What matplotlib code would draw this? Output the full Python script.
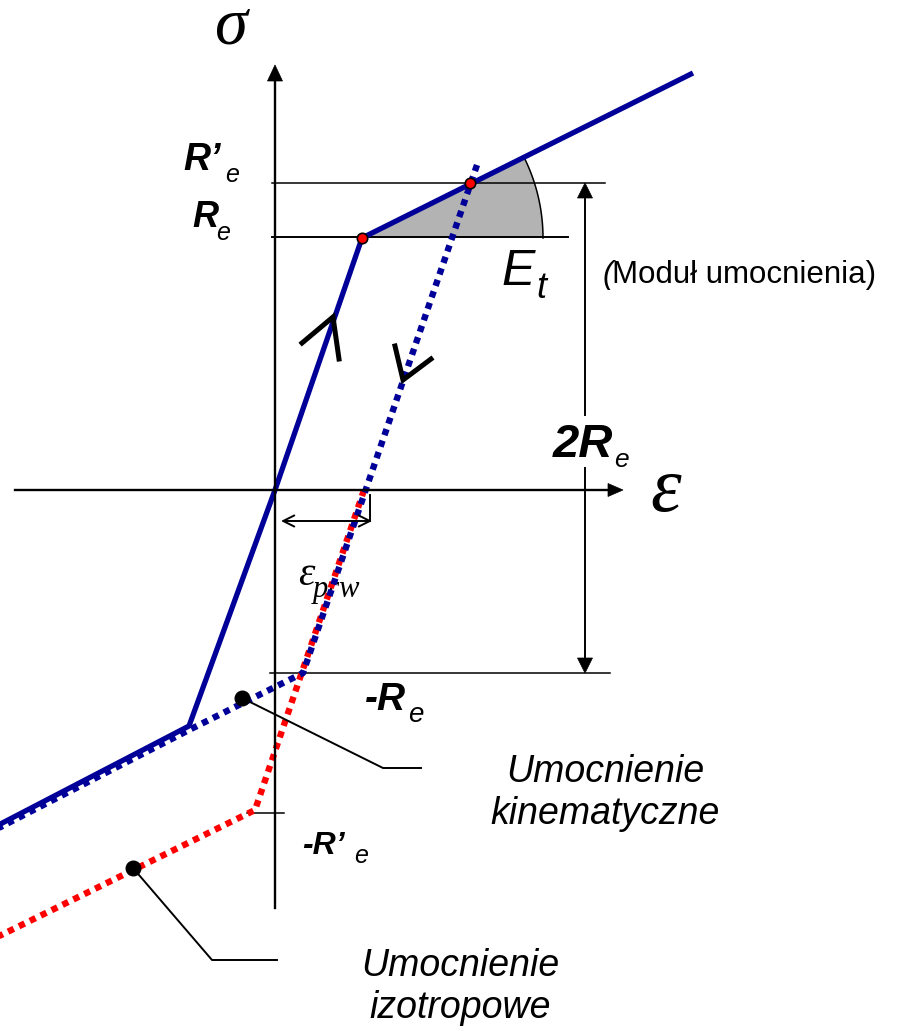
import numpy as np
import matplotlib
matplotlib.use("Agg")
import matplotlib.pyplot as plt
from matplotlib.patches import Wedge, Polygon

# --- diagram geometry (strain eps to the right, stress sig upwards) ---
# monotonic loading curve: compression hardening, elastic line, tension hardening
load_eps = [-290, -86, 0, 87, 418]
load_sig = [-342, -236, 0, 252, 417]

# reverse loading with kinematic hardening (unloading from R'e)
kin_eps = [202, 28, -86, -290]
kin_sig = [325, -183, -240, -345]

# reverse loading with isotropic hardening
iso_eps = [89, -20, -290]
iso_sig = [0, -320, -453]

# yield points marked on the curve
yield_eps = [87, 195]
yield_sig = [252, 307]

# characteristic stress levels
Re = 253
Re_prime = 307
neg_Re = -183
neg_Re_prime = -323

# leader lines for the two annotations
kin_leader_eps = [-33, 108, 146]
kin_leader_sig = [-208, -278, -278]
iso_leader_eps = [-142, -63, 2]
iso_leader_sig = [-378, -470, -470]

BLUE = "#000099"
RED = "#ff0000"
SANS = "Liberation Sans"
SERIF = "Liberation Serif"

fig = plt.figure(figsize=(8.97, 10.31), dpi=100)
ax = fig.add_axes([0, 0, 1, 1])
ax.set_xlim(-275, 622)
ax.set_ylim(-541, 490)
ax.axis("off")


def head(tip, direction, length=15, width=15, **kw):
    """Filled triangular arrow head with its tip at `tip`."""
    d = np.asarray(direction, float)
    d /= np.hypot(*d)
    n = np.array([-d[1], d[0]])
    t = np.asarray(tip, float)
    base = t - d * length
    pts = [t, base + n * width / 2, base - n * width / 2]
    ax.add_patch(Polygon(pts, closed=True, facecolor="black", edgecolor="black",
                         lw=0.5, zorder=6))


# coordinate axes
ax.plot([0, 0], [-418, 411], color="black", lw=1.7, zorder=5)
head((0, 425), (0, 1), 16, 15)
ax.plot([-260, 334], [0, 0], color="black", lw=1.7, zorder=5)
head((348, 0), (1, 0), 15, 13)

# stress-level reference lines
ax.plot([-3, 330], [Re_prime, Re_prime], color="black", lw=1.1, zorder=2)
ax.plot([-3, 293], [Re, Re], color="black", lw=1.4, zorder=2)
ax.plot([-5, 335], [neg_Re, neg_Re], color="black", lw=1.1, zorder=2)
ax.plot([-28, 9], [neg_Re_prime, neg_Re_prime], color="black", lw=1.1, zorder=2)

# 2Re dimension arrow
ax.plot([310, 310], [Re_prime - 14, 75], color="black", lw=1.4, zorder=5)
ax.plot([310, 310], [22, neg_Re + 14], color="black", lw=1.4, zorder=5)
head((310, Re_prime), (0, 1), 15, 15)
head((310, neg_Re), (0, -1), 15, 15)

# tangent modulus wedge
slope_deg = np.degrees(np.arctan2(load_sig[4] - load_sig[3], load_eps[4] - load_eps[3]))
ax.add_patch(Wedge((yield_eps[0], yield_sig[0]), 181, 0, slope_deg,
                   facecolor="#b3b3b3", edgecolor="none", zorder=1))
ang = np.radians(np.linspace(0, slope_deg, 60))
ax.plot(yield_eps[0] + 181 * np.cos(ang), yield_sig[0] + 181 * np.sin(ang),
        color="black", lw=1.1, zorder=2)

# residual strain arrow
ax.annotate("", xy=(6, -31), xytext=(97, -31),
            arrowprops=dict(arrowstyle="<->,head_length=0.8,head_width=0.4",
                            color="black", lw=1.4, shrinkA=0, shrinkB=0), zorder=5)
ax.plot([95, 95], [-5, -31], color="black", lw=1.4, zorder=5)

# eps_prw label (partly hidden behind the dotted paths)
ax.text(23, -95, "ε", family=SERIF, style="italic", fontsize=30,
        ha="left", va="baseline", zorder=2)
ax.text(38, -107, "prw", family=SERIF, style="italic", fontsize=22,
        ha="left", va="baseline", zorder=2)

# loading curve
ax.plot(load_eps, load_sig, color=BLUE, lw=3.8, solid_capstyle="butt",
        solid_joinstyle="miter", zorder=4)

# isotropic and kinematic reverse paths
ax.plot(iso_eps, iso_sig, color=RED, lw=4.6, linestyle=(0, (1, 0.9)), zorder=3)
ax.plot(kin_eps, kin_sig, color=BLUE, lw=4.6, linestyle=(0, (1, 0.9)), zorder=3)

# direction chevrons
ax.plot([27, 58, 64], [147, 173, 131], color="black", lw=3.6,
        solid_joinstyle="miter", zorder=6)
ax.plot([120, 128, 156], [144, 110, 131], color="black", lw=3.6,
        solid_joinstyle="miter", zorder=6)

# yield points
ax.plot(yield_eps, yield_sig, "o", ms=7.5, mfc=RED, mec="black", mew=1.2, zorder=7)

# leaders
ax.plot(kin_leader_eps, kin_leader_sig, color="black", lw=1.4, zorder=5)
ax.plot(kin_leader_eps[0], kin_leader_sig[0], "o", ms=10.5, color="black", zorder=7)
ax.plot(iso_leader_eps, iso_leader_sig, color="black", lw=1.4, zorder=5)
ax.plot(iso_leader_eps[0], iso_leader_sig[0], "o", ms=10.5, color="black", zorder=7)

# axis symbols
ax.text(-45, 446, "σ", family=SERIF, style="italic", fontsize=48, ha="center",
        va="baseline")
ax.text(391, -2, "ε", family=SERIF, style="italic", fontsize=56, ha="center",
        va="center")


def label(x, y, main, sub, size, sub_size, dx, dy):
    ax.text(x, y, main, family=SANS, style="italic", weight="bold",
            fontsize=size, ha="left", va="baseline", zorder=8)
    ax.text(x + dx, y + dy, sub, family=SANS, style="italic",
            fontsize=sub_size, ha="left", va="baseline", zorder=8)


label(-92, 320, "R\u2019", "e", 27, 18, 42, -12)
label(-83, 263, "R", "e", 26, 18, 24, -13)
label(90, -220, "-R", "e", 28, 20, 43, -12)
label(27, -364, "-R\u2019", "e", 23, 18, 52, -9)
label(278, 33, "2R", "e", 34, 19, 61, -10)

ax.text(226, 205, "E", family=SANS, style="italic", fontsize=36,
        ha="left", va="baseline")
ax.text(261, 192, "t", family=SANS, style="italic", fontsize=26,
        ha="left", va="baseline")
ax.text(328, 207, "(", family=SANS, style="italic", fontsize=22.5,
        ha="left", va="baseline")
ax.text(337, 207, "Modu\u0142 umocnienia)", family=SANS, fontsize=22.5,
        ha="left", va="baseline")

ax.text(330, -303, "Umocnienie\nkinematyczne", family=SANS, style="italic",
        fontsize=27, ha="center", va="center", linespacing=1.2)
ax.text(185, -497, "Umocnienie\nizotropowe", family=SANS, style="italic",
        fontsize=27, ha="center", va="center", linespacing=1.2)

fig.savefig("out.png", dpi=100)
